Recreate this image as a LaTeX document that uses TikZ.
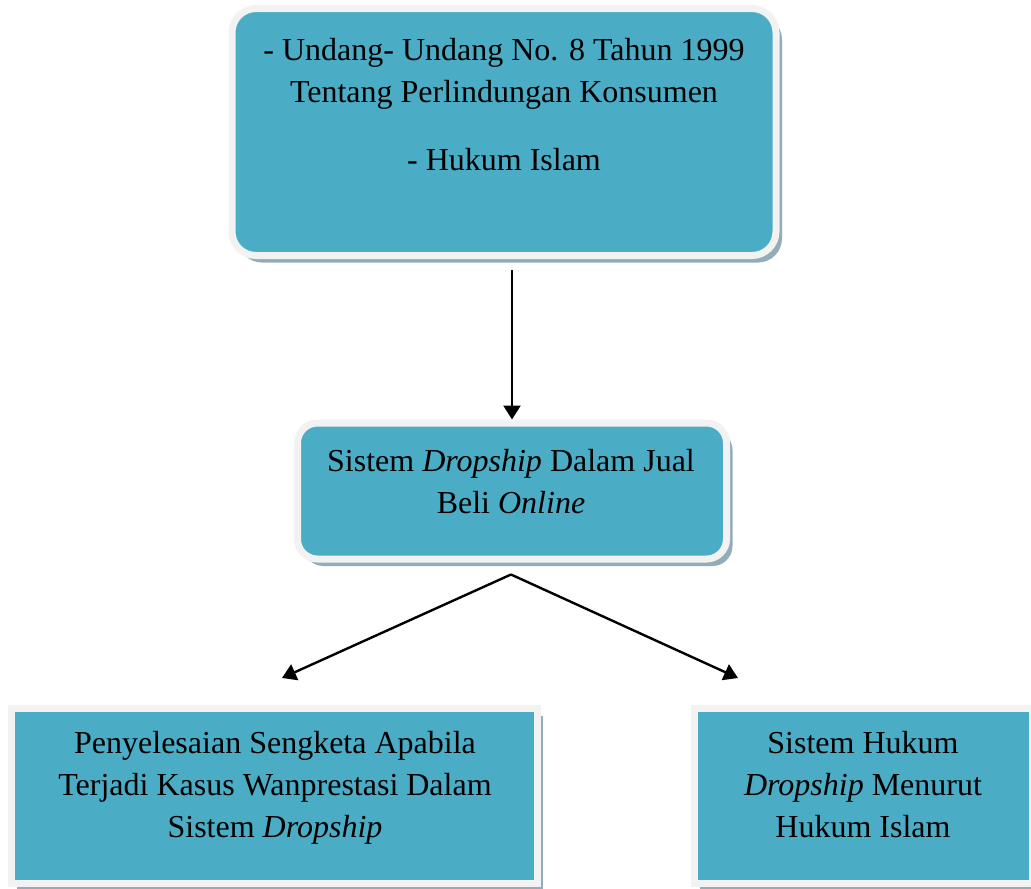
\documentclass[tikz,border=0pt]{standalone}
\usepackage{fontspec}
\setmainfont{Liberation Serif}
\usetikzlibrary{shadows,arrows.meta}
\definecolor{boxblue}{HTML}{4BACC6}
\definecolor{rimgrey}{HTML}{F2F2F2}
\definecolor{shadowgrey}{HTML}{93ADB8}
\begin{document}
\begin{tikzpicture}[x=1pt,y=-1pt,
  boxbase/.style={draw=rimgrey, line width=7pt, fill=boxblue, inner sep=0pt,
    drop shadow={shadow xshift=6pt, shadow yshift=-7pt, fill=shadowgrey, opacity=1}},
  roundbox/.style={boxbase, rounded corners=24pt},
  squarebox/.style={boxbase},
  txt/.style={align=center, inner sep=0pt, anchor=base,
    font=\fontsize{32}{42}\selectfont},
  arr/.style={line width=2.4pt, -{Triangle[length=14pt,width=17pt]}}]
\useasboundingbox (0,0) rectangle (1031,889);
\fill[white] (0,0) rectangle (1031,889);

% boxes
\node[roundbox, minimum width=544pt, minimum height=247pt] (top) at (504,132) {};
\node[roundbox, rounded corners=20pt, minimum width=429pt, minimum height=136pt] (mid) at (512,491) {};
\node[squarebox, minimum width=526pt, minimum height=175pt] (left) at (274,796) {};
\node[squarebox, minimum width=338pt, minimum height=175pt] (right) at (863,796) {};

% texts (anchor base = baseline of the last line)
\node[txt] (toptext) at (504,170) {- Undang- Undang No. 8 Tahun 1999\\Tentang Perlindungan Konsumen\\[26pt]- Hukum Islam};
\node[txt] (midtext) at (511,513) {Sistem \textit{Dropship} Dalam Jual\\Beli \textit{Online}};
\node[txt] (lefttext) at (275,837) {Penyelesaian Sengketa Apabila\\Terjadi Kasus Wanprestasi Dalam\\Sistem \textit{Dropship}};
\node[txt] (righttext) at (863,837) {Sistem Hukum\\\textit{Dropship} Menurut\\Hukum Islam};

% connectors
\coordinate (a1start) at ([yshift=-11pt]top.south -| mid.north);
\coordinate (fork) at ([yshift=-12pt]mid.south -| 511,0);
\coordinate (leftend) at (282,678);
\coordinate (rightend) at (738,678);
\draw[arr] (a1start) -- (mid.north);
\draw[arr] (fork) -- (leftend);
\draw[arr] (fork) -- (rightend);
\end{tikzpicture}
\end{document}
